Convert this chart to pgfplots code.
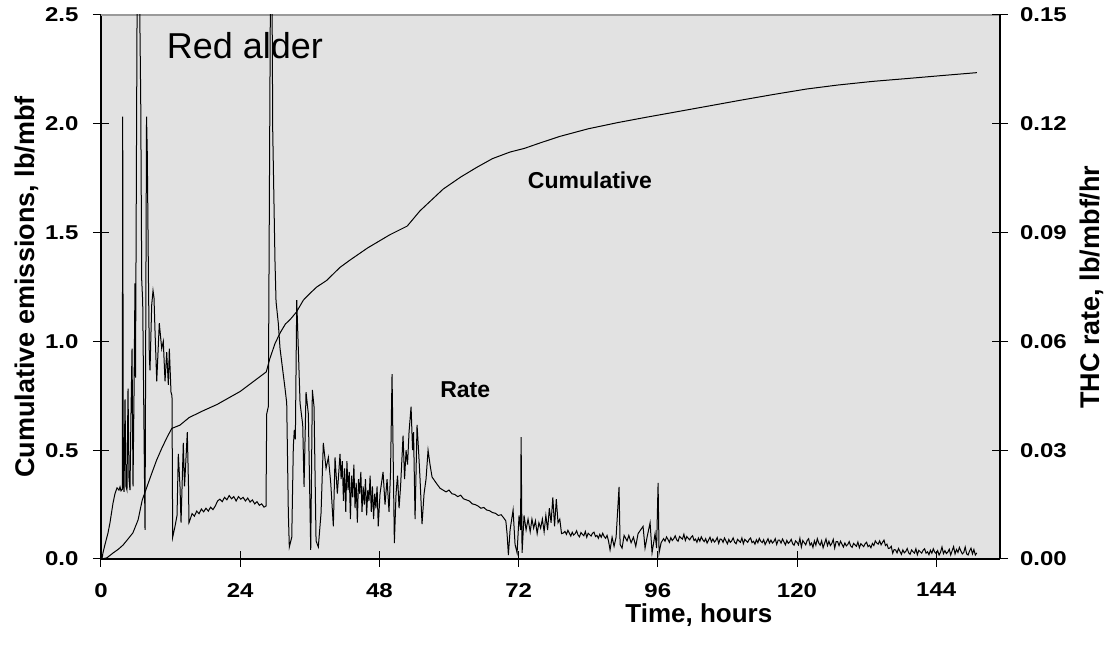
\documentclass[border=0pt]{standalone}
\usepackage{fontspec}
\setmainfont{Liberation Sans}
\usepackage{pgfplots}
\usepackage{pgfplotstable}
\pgfplotsset{compat=1.18}
\definecolor{plotbg}{HTML}{E2E2E2}
\definecolor{framegray}{HTML}{9A9A9A}

% THC rate, lb/mbf/hr
\pgfplotstableread{
t v
0 0
0.17 0
0.34 0.0017
0.69 0.004
1.21 0.0072
1.55 0.010
2.07 0.0154
2.41 0.018
2.76 0.0196
3.10 0.0190
3.28 0.0199
3.45 0.0188
3.67 0.0192
3.74 0.122
3.85 0.021
3.97 0.0185
4.14 0.044
4.31 0.020
4.48 0.019
4.66 0.047
4.83 0.022
5.00 0.019
5.17 0.040
5.35 0.058
5.52 0.020
5.69 0.045
5.86 0.076
5.95 0.050
6.35 0.20
6.85 0.1265
7.02 0.077
7.19 0.071
7.59 0.008
7.85 0.122
7.98 0.112
8.19 0.076
8.33 0.056
8.45 0.052
8.74 0.070
8.97 0.074
9.14 0.072
9.31 0.063
9.61 0.049
10.05 0.065
10.47 0.058
10.74 0.060
11.04 0.049
11.33 0.057
11.61 0.048
11.78 0.058
12.07 0.046
12.24 0.045
12.36 0.006
12.76 0.009
13.11 0.012
13.33 0.029
13.62 0.020
13.80 0.010
14.19 0.032
14.40 0.020
14.66 0.028
14.88 0.035
15.09 0.020
15.17 0.010
15.35 0.0108
15.7 0.0125
16.1 0.0118
16.5 0.0132
16.9 0.0125
17.3 0.0138
17.7 0.0130
18.1 0.0140
18.5 0.0132
18.9 0.0143
19.3 0.0136
19.7 0.0146
20.1 0.0160
20.5 0.0165
20.9 0.0158
21.3 0.0170
21.7 0.0163
22.1 0.0175
22.5 0.0166
22.9 0.0172
23.3 0.0160
23.7 0.0172
24.1 0.0165
24.5 0.0170
24.9 0.0160
25.3 0.0168
25.7 0.0157
26.1 0.0163
26.5 0.0152
26.9 0.0158
27.3 0.0148
27.7 0.0152
28.1 0.0143
28.45 0.0146
28.57 0.040
28.85 0.042
29.35 0.20
29.61 0.118
30.0 0.082
30.18 0.071
30.57 0.065
30.87 0.058
31.73 0.047
32.02 0.043
32.30 0.0127
32.47 0.0033
32.89 0.0060
33.16 0.031
33.33 0.0356
33.51 0.033
33.75 0.0714
34.02 0.058
34.32 0.043
34.78 0.037
35.01 0.0199
35.35 0.046
35.75 0.040
36.16 0.0025
36.44 0.0466
36.73 0.042
37.08 0.005
37.47 0.0033
37.94 0.0127
38.33 0.032
38.80 0.025
39.20 0.028
39.61 0.021
40.06 0.009
40.35 0.028
40.75 0.018
41.21 0.029
41.4 0.022
41.6 0.027
41.8 0.016
42.0 0.025
42.2 0.013
42.4 0.027
42.6 0.019
42.8 0.024
43.0 0.011
43.2 0.023
43.4 0.017
43.6 0.026
43.8 0.014
44.0 0.021
44.2 0.010
44.4 0.022
44.6 0.018
44.8 0.024
45.0 0.013
45.2 0.020
45.4 0.015
45.6 0.022
45.8 0.012
46.0 0.019
46.2 0.016
46.4 0.023
46.6 0.013
46.8 0.020
47.0 0.011
47.2 0.018
47.4 0.014
47.6 0.020
47.8 0.009
48.11 0.018
48.63 0.024
48.97 0.015
49.32 0.022
49.66 0.013
49.92 0.024
50.18 0.051
50.36 0.030
50.58 0.0044
50.87 0.018
51.13 0.023
51.39 0.014
51.65 0.020
52.08 0.034
52.34 0.022
52.60 0.030
52.85 0.026
53.11 0.035
53.46 0.042
53.72 0.030
53.89 0.035
54.15 0.011
54.49 0.037
54.75 0.030
55.01 0.022
55.35 0.0096
55.70 0.018
56.04 0.022
56.39 0.030
56.73 0.026
57.08 0.0226
57.77 0.021
58.46 0.0195
58.98 0.019
59.5 0.0185
60.0 0.0190
60.5 0.0180
61.0 0.0178
61.5 0.0172
62.0 0.0176
62.5 0.0166
63.0 0.0163
63.5 0.0160
64.0 0.0152
64.5 0.0150
65.0 0.0146
65.5 0.0140
66.0 0.0142
66.5 0.0135
67.0 0.0133
67.5 0.0128
68.0 0.0126
68.5 0.0120
69.0 0.0122
69.4 0.0114
69.8 0.0105
70.01 0.007
70.24 0.0011
70.53 0.008
71.05 0.0135
71.39 0.004
71.74 0.0017
72.08 0.012
72.34 0.008
72.43 0.0336
72.60 0.0017
72.94 0.012
73.29 0.008
73.63 0.011
74.0 0.0075
74.3 0.011
74.6 0.0085
74.9 0.0105
75.2 0.007
75.5 0.010
75.8 0.0085
76.1 0.011
76.4 0.0075
76.7 0.012
77.0 0.008
77.3 0.014
77.6 0.010
77.9 0.017
78.2 0.009
78.5 0.0165
78.8 0.010
79.1 0.011
79.4 0.007
79.75 0.0072
80.00 0.0076
80.25 0.0068
80.50 0.0079
80.75 0.0071
81.00 0.0063
81.25 0.0074
81.50 0.0066
81.75 0.0070
82.00 0.0078
82.25 0.0066
82.50 0.0061
82.75 0.0073
83.00 0.0068
83.25 0.0064
83.50 0.0076
83.75 0.0060
84.00 0.0071
84.25 0.0067
84.50 0.0063
84.75 0.0071
85.00 0.0074
85.25 0.0062
85.50 0.0065
85.75 0.0057
86.00 0.0068
86.25 0.0060
86.50 0.0071
86.75 0.0062
87.00 0.0057
87.25 0.0065
87.50 0.0050
87.77 0.0025
88.12 0.006
88.46 0.0035
88.81 0.006
89.32 0.0199
89.50 0.004
89.84 0.003
90.19 0.0065
90.70 0.005
91.0 0.0065
91.4 0.0045
91.8 0.006
92.2 0.0035
92.6 0.007
93.46 0.009
93.8 0.003
94.15 0.006
94.67 0.010
95.01 0.0017
95.53 0.007
95.79 0.003
96.05 0.021
96.22 0.0017
96.57 0.0045
97.00 0.0056
97.25 0.0049
97.50 0.0061
97.75 0.0054
98.00 0.0046
98.25 0.0059
98.50 0.0051
98.75 0.0056
99.00 0.0064
99.25 0.0053
99.50 0.0049
99.75 0.0062
100.00 0.0058
100.25 0.0055
100.50 0.0068
100.75 0.0051
101.00 0.0062
101.25 0.0057
101.50 0.0053
101.75 0.0060
102.00 0.0064
102.25 0.0051
102.50 0.0055
102.75 0.0046
103.00 0.0058
103.25 0.0049
103.50 0.0061
103.75 0.0053
104.00 0.0048
104.25 0.0056
104.50 0.0044
104.75 0.0052
105.00 0.0060
105.25 0.0047
105.50 0.0055
105.75 0.0047
106.00 0.0051
106.25 0.0059
106.50 0.0043
106.75 0.0055
107.00 0.0054
107.25 0.0046
107.50 0.0058
107.75 0.0050
108.00 0.0042
108.25 0.0054
108.50 0.0046
108.75 0.0050
109.00 0.0058
109.25 0.0046
109.50 0.0042
109.75 0.0054
110.00 0.0050
110.25 0.0046
110.50 0.0058
110.75 0.0042
111.00 0.0054
111.25 0.0050
111.50 0.0046
111.75 0.0054
112.00 0.0058
112.25 0.0045
112.50 0.0049
112.75 0.0041
113.00 0.0053
113.25 0.0045
113.50 0.0057
113.75 0.0049
114.00 0.0045
114.25 0.0053
114.50 0.0040
114.75 0.0048
115.00 0.0056
115.25 0.0044
115.50 0.0052
115.75 0.0044
116.00 0.0048
116.25 0.0056
116.50 0.0040
116.75 0.0052
117.00 0.0052
117.25 0.0044
117.50 0.0055
117.75 0.0047
118.00 0.0039
118.25 0.0051
118.50 0.0043
118.75 0.0047
119.00 0.0054
119.25 0.0042
119.50 0.0038
119.75 0.0050
120.00 0.0046
120.25 0.0039
120.50 0.0057
120.75 0.0033
121.00 0.0051
121.25 0.0045
121.50 0.0039
121.75 0.0051
122.00 0.0056
122.25 0.0038
122.50 0.0044
122.75 0.0032
123.00 0.0050
123.25 0.0038
123.50 0.0056
123.75 0.0044
124.00 0.0038
124.25 0.0050
124.50 0.0031
124.75 0.0043
125.00 0.0055
125.25 0.0037
125.50 0.0049
125.75 0.0037
126.00 0.0043
126.25 0.0054
126.50 0.0030
126.75 0.0048
127.00 0.0048
127.25 0.0037
127.50 0.0049
127.75 0.0041
128.00 0.0033
128.25 0.0044
128.50 0.0036
128.75 0.0040
129.00 0.0048
129.25 0.0036
129.50 0.0032
129.75 0.0043
130.00 0.0039
130.25 0.0035
130.50 0.0047
130.75 0.0031
131.00 0.0042
131.25 0.0038
131.50 0.0034
131.75 0.0042
132.00 0.0046
132.25 0.0034
132.50 0.0038
132.75 0.0031
133.00 0.0043
133.25 0.0037
133.50 0.0050
133.75 0.0044
134.00 0.0041
134.25 0.0050
134.50 0.0039
134.75 0.0046
135.00 0.0052
135.25 0.0037
135.50 0.0041
135.75 0.0029
136.00 0.0030
136.25 0.0035
136.50 0.0016
136.75 0.0026
137.00 0.0025
137.25 0.0017
137.50 0.0029
137.75 0.0021
138.00 0.0013
138.25 0.0025
138.50 0.0017
138.75 0.0021
139.00 0.0029
139.25 0.0017
139.50 0.0013
139.75 0.0025
140.00 0.0020
140.25 0.0016
140.50 0.0028
140.75 0.0012
141.00 0.0024
141.25 0.0020
141.50 0.0016
141.75 0.0024
142.00 0.0028
142.25 0.0016
142.50 0.0020
142.75 0.0012
143.00 0.0024
143.25 0.0016
143.50 0.0028
143.75 0.0019
144.00 0.0015
144.25 0.0023
144.50 0.0011
144.75 0.0019
145.00 0.0033
145.25 0.0015
145.50 0.0023
145.75 0.0015
146.00 0.0019
146.25 0.0027
146.50 0.0011
146.75 0.0023
147.00 0.0034
147.25 0.0014
147.50 0.0026
147.75 0.0018
148.00 0.0032
148.25 0.0022
148.50 0.0014
148.75 0.0018
149.00 0.0033
149.25 0.0014
149.50 0.0011
149.75 0.0022
150.00 0.0030
150.25 0.0014
150.50 0.0026
150.75 0.0011
151.00 0.0017
}\ratetable

% Cumulative emissions, lb/mbf
\pgfplotstableread{
t c
0 0
1 0.005
2.1 0.028
3 0.045
3.8 0.064
4.6 0.09
5.5 0.12
6.4 0.18
7.1 0.27
7.9 0.33
8.7 0.39
9.6 0.455
10.5 0.51
11.4 0.56
12.2 0.60
13.6 0.615
15.2 0.65
17.5 0.68
20 0.71
22 0.74
24 0.77
26 0.81
27.4 0.838
28.5 0.86
29.1 0.92
30 0.99
30.9 1.04
31.8 1.08
32.6 1.10
33.7 1.135
34.9 1.19
36 1.22
37.2 1.25
38.9 1.28
41.2 1.34
43 1.375
46 1.43
49.8 1.49
52.8 1.53
55 1.60
57 1.65
59 1.70
62 1.755
64.8 1.80
67.5 1.84
70.5 1.87
73 1.887
75.7 1.912
79.1 1.942
84 1.977
89 2.005
94 2.03
98.6 2.052
104 2.078
110.2 2.108
116 2.135
121.7 2.16
127 2.178
133.1 2.195
139 2.208
144.7 2.221
151 2.235
}\cumtable

\begin{document}
\begin{tikzpicture}
\pgfplotsset{
  common/.style={
    width=449.5pt, height=272pt, scale only axis,
    xmin=0, xmax=155, enlargelimits=false,
    tick align=center, major tick length=8pt,
    tick style={black, line width=0.5pt},
    axis line style={black, line width=0.6pt},
    /pgf/number format/assume math mode=true,
    tick label style={font=\fontsize{10}{12}\selectfont\bfseries, xscale=1.2},
    label style={font=\fontsize{13.5}{15}\selectfont\bfseries},
  }
}
\begin{axis}[common, name=a, clip=false,
  axis x line*=bottom, axis y line*=left,
  ymin=0, ymax=2.5,
  xtick={0,24,...,144}, ytick={0,0.5,...,2.5},
  xticklabel style={yshift=-4.5pt},
  yticklabel style={xshift=-2.5pt, /pgf/number format/.cd, fixed, fixed zerofill, precision=1},
  axis background/.style={fill=plotbg},
  xlabel={Time, hours}, ylabel={Cumulative emissions, lb/mbf},
  x label style={at={(axis description cs:0.665,-0.104)}, anchor=center, font=\fontsize{13}{15}\selectfont\bfseries},
  y label style={at={(axis description cs:-0.0823,0.5)}, anchor=center, rotate=0},
]
\draw[framegray, line width=0.6pt] (rel axis cs:0,1) -- (rel axis cs:1,1);
\addplot[black, line width=0.5pt] table[x=t, y=c] {\cumtable};
\node[font=\fontsize{11.5}{13}\selectfont\bfseries] at (axis cs:84.3,1.74) {Cumulative};
\node[font=\fontsize{11.5}{13}\selectfont\bfseries] at (axis cs:62.8,0.777) {Rate};
\node[font=\fontsize{18}{20}\selectfont] at (axis cs:24.8,2.36) {Red alder};
\end{axis}
\begin{axis}[common,
  axis x line=none, axis y line*=right,
  ymin=0, ymax=0.15,
  ytick={0,0.03,...,0.15},
  yticklabel style={xshift=1.5pt, /pgf/number format/.cd, fixed, fixed zerofill, precision=2},
  ylabel={THC rate, lb/mbf/hr},
  y label style={at={(axis description cs:1.1023,0.5)}, anchor=center, rotate=0},
]
\addplot[black, line width=0.5pt] table[x=t, y=v] {\ratetable};
\end{axis}
\pgfresetboundingbox
\path[use as bounding box] ([shift={(-50.5pt,-49pt)}]a.south west) rectangle ([shift={(57.5pt,7.5pt)}]a.north east);
\end{tikzpicture}
\end{document}
